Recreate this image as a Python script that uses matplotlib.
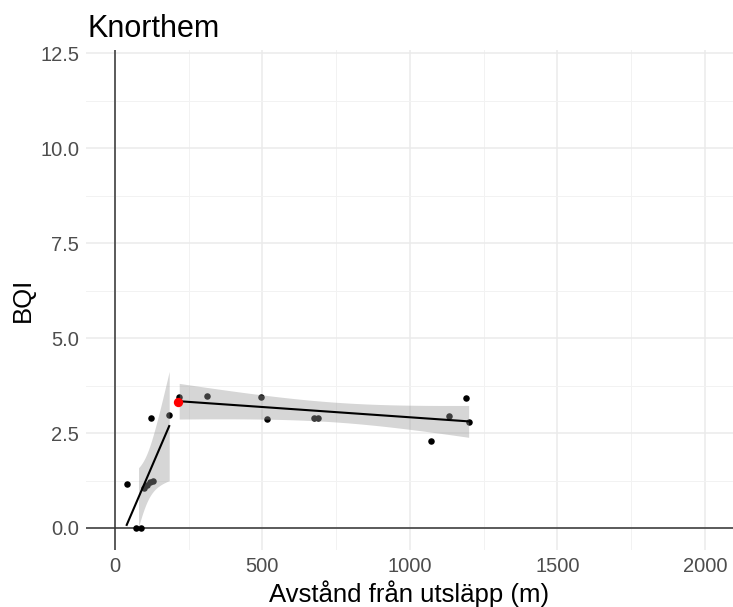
import numpy as np
import matplotlib.pyplot as plt

# distance from discharge (m) and BQI, two groups fitted separately
x_near = [40, 70, 88, 100, 110, 120, 128, 123, 184]
y_near = [1.15, 0.0, 0.0, 1.05, 1.12, 1.20, 1.24, 2.89, 2.98]

x_far = [218, 311, 496, 516, 676, 689, 1072, 1133, 1190, 1199]
y_far = [3.44, 3.48, 3.46, 2.88, 2.91, 2.89, 2.28, 2.95, 3.42, 2.80]

# highlighted station
x_red = [215]
y_red = [3.33]

title = 'Knorthem'
xlabel = 'Avstånd från utsläpp (m)'
ylabel = 'BQI'
xticks = [0, 500, 1000, 1500, 2000]
yticks = [0.0, 2.5, 5.0, 7.5, 10.0, 12.5]

# t quantiles (0.975) for the confidence band
t975 = {7: 2.3646, 8: 2.3060, 9: 2.2622}

plt.rcParams['font.family'] = ['Liberation Sans', 'DejaVu Sans']


def lm_band(x, y, ymin=0.0):
    x = np.asarray(x, float)
    y = np.asarray(y, float)
    n = len(x)
    b, a = np.polyfit(x, y, 1)
    xs = np.linspace(x.min(), x.max(), 80)
    fit = a + b*xs
    s = np.sqrt(np.sum((y - (a + b*x))**2)/(n - 2))
    sxx = np.sum((x - x.mean())**2)
    se = s*np.sqrt(1/n + (xs - x.mean())**2/sxx)
    lo = fit - t975[n-2]*se
    hi = fit + t975[n-2]*se
    ok = lo >= ymin  # values below the scale limit are dropped
    return xs, fit, lo, hi, ok


fig = plt.figure(figsize=(7.33, 6.07), dpi=100)
ax = fig.add_axes([86/733, 57/607, 647/733, 500/607])

ax.set_xlim(-98, 2095)
ax.set_ylim(-0.58, 12.59)

# grid, ggplot minimal look
ax.set_xticks(xticks)
ax.set_yticks(yticks)
ax.set_xticks([250, 750, 1250, 1750], minor=True)
ax.set_yticks([1.25, 3.75, 6.25, 8.75, 11.25], minor=True)
ax.grid(which='major', color='#EBEBEB', lw=1.1)
ax.grid(which='minor', color='#F2F2F2', lw=0.7)
ax.set_axisbelow(True)
for sp in ax.spines.values():
    sp.set_visible(False)
ax.tick_params(which='both', length=0)
ax.tick_params(axis='both', labelsize=14.5, labelcolor='#4D4D4D', pad=5)
ax.set_xticklabels([str(v) for v in xticks])
ax.set_yticklabels(['%.1f' % v for v in yticks])

ax.axhline(0, color='#333333', lw=1.1, zorder=1)
ax.axvline(0, color='#333333', lw=1.1, zorder=1)

ax.scatter(x_near, y_near, s=22, color='black', lw=0, zorder=2)
ax.scatter(x_far, y_far, s=22, color='black', lw=0, zorder=2)

for xx, yy in [(x_near, y_near), (x_far, y_far)]:
    xs, fit, lo, hi, ok = lm_band(xx, yy)
    ax.fill_between(xs, lo, hi, where=ok, color='#999999', alpha=0.4, lw=0, zorder=3)
    ax.plot(xs, fit, color='black', lw=1.5, zorder=4)

ax.scatter(x_red, y_red, s=45, color='red', lw=0, zorder=5)

ax.set_xlabel(xlabel, fontsize=18.5, labelpad=3)
ax.set_ylabel(ylabel, fontsize=18.5, labelpad=4)
fig.text(88/733, 1 - 37/607, title, fontsize=22, ha='left', va='baseline')

plt.savefig('out.png', dpi=100)
